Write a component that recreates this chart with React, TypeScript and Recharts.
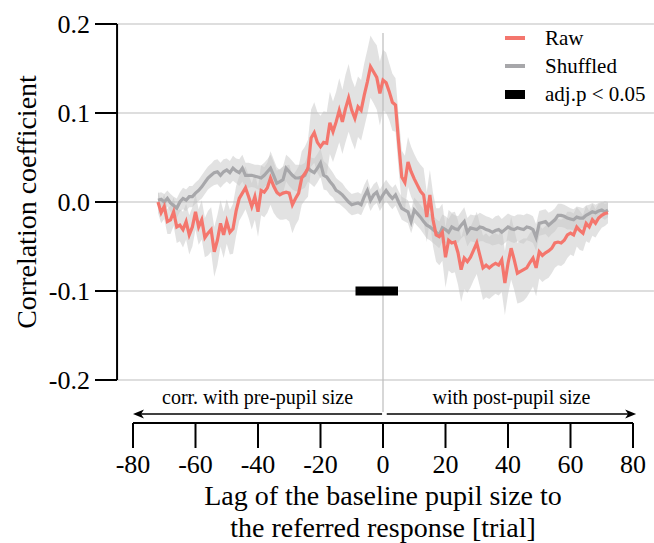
import React from "react";
import {
  ComposedChart,
  Line,
  Area,
  XAxis,
  YAxis,
  ReferenceLine,
  Legend,
} from "recharts";

// lag in trials (x)
const lags = [
  -72, -71, -70, -69, -68, -67, -66, -65, -64, -63, -62, -61, -60, -59, -58, -57, -56, -55,
  -54, -53, -52, -51, -50, -49, -48, -47, -46, -45, -44, -43, -42, -41, -40, -39, -38, -37,
  -36, -35, -34, -33, -32, -31, -30, -29, -28, -27, -26, -25, -24, -23, -22, -21, -20, -19,
  -18, -17, -16, -15, -14, -13, -12, -11, -10, -9, -8, -7, -6, -5, -4, -3, -2, -1, 0, 1, 2,
  3, 4, 5, 6, 7, 8, 9, 10, 11, 12, 13, 14, 15, 16, 17, 18, 19, 20, 21, 22, 23, 24, 25, 26,
  27, 28, 29, 30, 31, 32, 33, 34, 35, 36, 37, 38, 39, 40, 41, 42, 43, 44, 45, 46, 47, 48,
  49, 50, 51, 52, 53, 54, 55, 56, 57, 58, 59, 60, 61, 62, 63, 64, 65, 66, 67, 68, 69, 70,
  71, 72,
];

const rawValues = [
  0.0, -0.012, -0.005, -0.022, -0.02, -0.011, -0.028, -0.026, -0.031, -0.022, -0.037,
  -0.028, -0.011, -0.028, -0.02, -0.04, -0.035, -0.031, -0.056, -0.043, -0.024, -0.037,
  -0.022, -0.034, -0.03, -0.01, 0.004, 0.01, 0.016, 0.006, -0.005, 0.006, -0.011, 0.013,
  0.011, 0.016, 0.027, 0.018, 0.011, 0.008, 0.01, 0.011, 0.01, -0.003, 0.004, 0.01,
  0.027, 0.032, 0.038, 0.072, 0.078, 0.067, 0.062, 0.067, 0.066, 0.089, 0.079, 0.09,
  0.103, 0.09, 0.105, 0.117, 0.103, 0.094, 0.107, 0.103, 0.12, 0.135, 0.152, 0.146, 0.14,
  0.122, 0.137, 0.134, 0.124, 0.112, 0.109, 0.067, 0.028, 0.022, 0.045, 0.034, 0.026,
  0.019, 0.012, 0.008, -0.017, 0.008, -0.02, -0.037, -0.039, -0.034, -0.062, -0.043,
  -0.046, -0.045, -0.057, -0.076, -0.063, -0.067, -0.062, -0.054, -0.046, -0.06, -0.074,
  -0.071, -0.074, -0.071, -0.069, -0.071, -0.065, -0.091, -0.069, -0.052, -0.065, -0.08,
  -0.078, -0.076, -0.074, -0.068, -0.063, -0.074, -0.056, -0.06, -0.057, -0.055, -0.052,
  -0.046, -0.045, -0.046, -0.043, -0.037, -0.035, -0.037, -0.028, -0.032, -0.035, -0.024,
  -0.028, -0.02, -0.024, -0.018, -0.015, -0.013, -0.012,
];

const shuffledValues = [
  0.002, 0.003, 0.0, 0.004, -0.001, -0.004, -0.007, 0.0, 0.004, 0.002, 0.006, 0.006, 0.01,
  0.013, 0.017, 0.022, 0.027, 0.03, 0.033, 0.034, 0.03, 0.034, 0.036, 0.033, 0.038, 0.035,
  0.033, 0.038, 0.03, 0.03, 0.03, 0.029, 0.028, 0.027, 0.03, 0.034, 0.038, 0.03, 0.021,
  0.023, 0.025, 0.038, 0.034, 0.03, 0.027, 0.027, 0.028, 0.03, 0.038, 0.035, 0.033, 0.038,
  0.044, 0.03, 0.028, 0.023, 0.019, 0.013, 0.011, 0.008, 0.004, 0.0, -0.003, -0.002,
  -0.001, -0.003, 0.006, 0.013, 0.002, 0.008, 0.011, 0.002, 0.008, 0.013, 0.008, 0.004,
  0.008, 0.0, -0.007, -0.009, -0.011, -0.022, -0.009, -0.013, -0.017, -0.022, -0.026,
  -0.028, -0.031, -0.034, -0.037, -0.029, -0.031, -0.034, -0.028, -0.03, -0.031, -0.026,
  -0.022, -0.034, -0.029, -0.03, -0.031, -0.028, -0.029, -0.031, -0.032, -0.034, -0.032,
  -0.031, -0.034, -0.031, -0.028, -0.03, -0.031, -0.029, -0.03, -0.031, -0.028, -0.029,
  -0.031, -0.04, -0.024, -0.023, -0.022, -0.026, -0.023, -0.02, -0.015, -0.015, -0.016,
  -0.018, -0.019, -0.02, -0.017, -0.018, -0.018, -0.015, -0.013, -0.011, -0.012, -0.01,
  -0.009, -0.011, -0.009,
];

// half widths of the shaded bands, one per 2 trials of lag
const rawHalfWidth = [
  0.012, 0.014, 0.016, 0.018, 0.02, 0.022, 0.02,
  0.022, 0.025, 0.028, 0.026, 0.025, 0.028, 0.025, 0.024, 0.026, 0.028,
  0.028, 0.03, 0.028, 0.03, 0.032, 0.03, 0.03, 0.032, 0.034, 0.035,
  0.035, 0.034, 0.036, 0.038, 0.035, 0.034, 0.036, 0.035, 0.036, 0.034,
  0.032, 0.03, 0.03, 0.028, 0.028, 0.03, 0.028, 0.03, 0.032, 0.034,
  0.034, 0.036, 0.035, 0.034, 0.035, 0.036, 0.035, 0.034, 0.036, 0.035,
  0.034, 0.035, 0.033, 0.032, 0.03, 0.03, 0.028, 0.026, 0.026, 0.024,
  0.022, 0.02, 0.018, 0.016, 0.014, 0.012,
];

const shuffledHalfWidth = [
  0.008, 0.009, 0.01, 0.011, 0.012, 0.012, 0.012,
  0.013, 0.013, 0.014, 0.014, 0.013, 0.014, 0.015, 0.014, 0.013, 0.014,
  0.014, 0.015, 0.014, 0.015, 0.016, 0.015, 0.014, 0.015, 0.016, 0.016,
  0.015, 0.014, 0.013, 0.012, 0.012, 0.012, 0.013, 0.012, 0.012, 0.012,
  0.012, 0.012, 0.013, 0.013, 0.014, 0.014, 0.015, 0.015, 0.015, 0.015,
  0.015, 0.015, 0.016, 0.015, 0.016, 0.015, 0.015, 0.016, 0.015, 0.015,
  0.015, 0.016, 0.015, 0.015, 0.014, 0.014, 0.013, 0.013, 0.013, 0.012,
  0.012, 0.011, 0.01, 0.009, 0.009, 0.008,
];

const xTicks = [-80, -60, -40, -20, 0, 20, 40, 60, 80];
const yTicks = [-0.2, -0.1, 0, 0.1, 0.2];

// lags where adj.p < 0.05, drawn at y = -0.1
const sigRange = [-8.8, 4.8];
const sigLevel = -0.1;

const RAW = "#f4766d";
const SHUF = "#a7a7aa";
const BAND = "#c6c6c6";
const GRID = "#bdbdbd";
const FONT = "'Liberation Serif', 'Times New Roman', serif";

// frame extents (in data units) for the grid and offset axes
const GRID_LEFT = -85.1;
const GRID_RIGHT = 86.7;
const ARROW_Y = -0.2382;

const rows = lags.map((lag, i) => {
  const r = rawHalfWidth[Math.floor(i / 2)];
  const s = shuffledHalfWidth[Math.floor(i / 2)];
  return {
    lag,
    raw: rawValues[i],
    shuffled: shuffledValues[i],
    rawBand: [rawValues[i] - r, rawValues[i] + r],
    shufBand: [shuffledValues[i] - s, shuffledValues[i] + s],
  };
});

function YTick({ y, payload }: any) {
  return (
    <g>
      <line x1={95} x2={117} y1={y} y2={y} stroke="#000" strokeWidth={2} />
      <text
        x={90}
        y={y}
        textAnchor="end"
        dominantBaseline="central"
        fontSize={26}
        fill="#000"
      >
        {Number(payload.value).toFixed(1)}
      </text>
    </g>
  );
}

function arrowShape(label: string) {
  return (p: any) => {
    const { x1, y1, x2, y2 } = p;
    const dir = Math.sign(x2 - x1);
    const tip = x2;
    return (
      <g>
        <line x1={x1} y1={y1} x2={tip - dir * 4} y2={y2} stroke="#000" strokeWidth={1.6} />
        <path
          d={`M${tip},${y2} L${tip - dir * 11},${y2 - 4.5} L${tip - dir * 8},${y2} L${tip - dir * 11},${y2 + 4.5} Z`}
          fill="#000"
        />
        <text
          x={(x1 + x2) / 2}
          y={y1 - 17}
          textAnchor="middle"
          dominantBaseline="central"
          fontSize={20}
          fill="#000"
        >
          {label}
        </text>
      </g>
    );
  };
}

function XTitle() {
  return (
    <text textAnchor="middle" fontSize={28} fill="#000">
      <tspan x={383} y={505}>
        Lag of the baseline pupil size to
      </tspan>
      <tspan x={383} y={537}>
        the referred response [trial]
      </tspan>
    </text>
  );
}

function YTitle() {
  return (
    <text
      x={26}
      y={202}
      transform="rotate(-90 26 202)"
      textAnchor="middle"
      dominantBaseline="central"
      fontSize={28}
      fill="#000"
    >
      Correlation coefficient
    </text>
  );
}

const legendItems = [
  { label: "Raw", color: RAW, h: 4 },
  { label: "Shuffled", color: SHUF, h: 4 },
  { label: "adj.p < 0.05", color: "#000", h: 9 },
];

function LegendBox() {
  return (
    <div style={{ fontFamily: FONT, fontSize: 21, color: "#000" }}>
      {legendItems.map((it) => (
        <div
          key={it.label}
          style={{ display: "flex", alignItems: "center", height: 28, lineHeight: "28px" }}
        >
          <span
            style={{
              display: "inline-block",
              width: 20,
              height: it.h,
              background: it.color,
              marginLeft: 5,
              marginRight: 20,
            }}
          />
          <span>{it.label}</span>
        </div>
      ))}
    </div>
  );
}

export default function App() {
  return (
    <div
      style={{
        position: "absolute",
        left: 0,
        top: 0,
        width: 654,
        height: 543,
        background: "#fff",
        fontFamily: FONT,
      }}
    >
      <ComposedChart
        width={654}
        height={543}
        data={rows}
        margin={{ top: 24, right: 21, bottom: 0, left: 0 }}
      >
        <XAxis
          dataKey="lag"
          type="number"
          domain={[-80, 80]}
          ticks={xTicks}
          allowDataOverflow
          height={120}
          tickSize={25}
          tickMargin={7}
          axisLine={{ stroke: "#000", strokeWidth: 2 }}
          tickLine={{ stroke: "#000", strokeWidth: 2 }}
          tick={{ fontSize: 26, fill: "#000" }}
          interval={0}
          label={XTitle}
        />
        <YAxis
          type="number"
          domain={[-0.2483, 0.2]}
          ticks={yTicks}
          allowDataOverflow
          width={133}
          axisLine={false}
          tickLine={false}
          tickSize={0}
          tickMargin={0}
          tick={<YTick />}
          interval={0}
          label={YTitle}
        />

        {yTicks.map((v) => (
          <ReferenceLine
            key={`g${v}`}
            segment={[
              { x: GRID_LEFT, y: v },
              { x: GRID_RIGHT, y: v },
            ]}
            stroke={GRID}
            strokeWidth={1.2}
            ifOverflow="visible"
          />
        ))}
        <ReferenceLine
          segment={[
            { x: 0, y: -0.236 },
            { x: 0, y: 0.19 },
          ]}
          stroke={GRID}
          strokeWidth={1.2}
          ifOverflow="visible"
        />
        <ReferenceLine
          segment={[
            { x: GRID_LEFT, y: -0.2 },
            { x: GRID_LEFT, y: 0.2 },
          ]}
          stroke="#000"
          strokeWidth={2}
          ifOverflow="visible"
        />
        <ReferenceLine
          segment={[
            { x: -0.3, y: ARROW_Y },
            { x: -80, y: ARROW_Y },
          ]}
          shape={arrowShape("corr. with pre-pupil size")}
          ifOverflow="visible"
        />
        <ReferenceLine
          segment={[
            { x: 1.2, y: ARROW_Y },
            { x: 81, y: ARROW_Y },
          ]}
          shape={arrowShape("with post-pupil size")}
          ifOverflow="visible"
        />

        <Area
          type="linear"
          dataKey="shufBand"
          stroke="none"
          fill={BAND}
          fillOpacity={0.5}
          isAnimationActive={false}
        />
        <Area
          type="linear"
          dataKey="rawBand"
          stroke="none"
          fill={BAND}
          fillOpacity={0.5}
          isAnimationActive={false}
        />
        <Line
          type="linear"
          dataKey="shuffled"
          stroke={SHUF}
          strokeWidth={3.2}
          dot={false}
          isAnimationActive={false}
        />
        <Line
          type="linear"
          dataKey="raw"
          stroke={RAW}
          strokeWidth={3.2}
          dot={false}
          isAnimationActive={false}
        />
        <ReferenceLine
          segment={[
            { x: sigRange[0], y: sigLevel },
            { x: sigRange[1], y: sigLevel },
          ]}
          stroke="#000"
          strokeWidth={9}
          ifOverflow="visible"
        />

        <Legend
          layout="vertical"
          align="center"
          verticalAlign="middle"
          content={<LegendBox />}
          wrapperStyle={{ left: 500, top: 24, width: 154 }}
        />
      </ComposedChart>
    </div>
  );
}
